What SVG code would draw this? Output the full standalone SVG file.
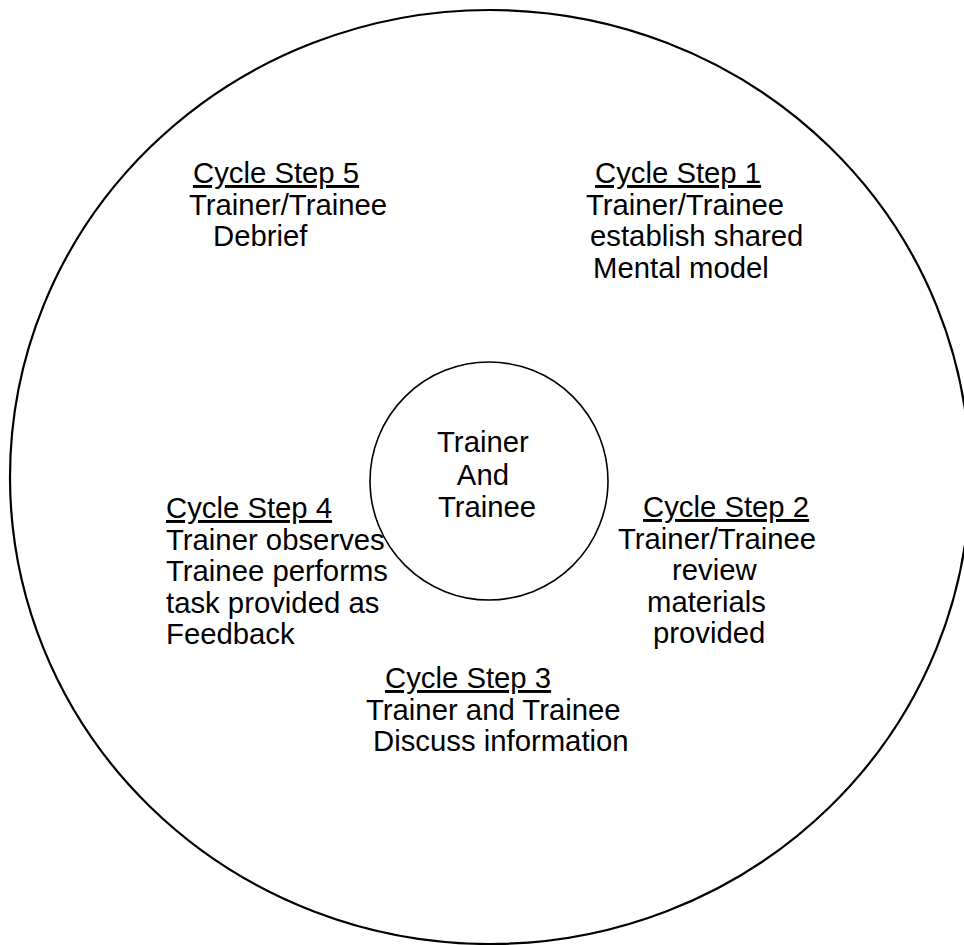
<svg xmlns="http://www.w3.org/2000/svg" width="964" height="945" viewBox="0 0 964 945">
<style>
  .t { font-family: "Liberation Sans", Arial, sans-serif; font-size: 29.3px; fill: #000; }
  .u { text-decoration: underline; }
  .ring { fill: none; stroke: #000; }
</style>
<rect width="964" height="945" fill="#fff"/>
<g id="outer-cycle">
  <ellipse class="ring" cx="490" cy="477" rx="480" ry="467" stroke-width="2.2"/>
</g>
<g id="center">
  <circle class="ring" cx="489" cy="481" r="119" stroke-width="1.6"/>
  <text class="t" text-anchor="middle">
    <tspan x="487" y="452">Trainer</tspan>
    <tspan x="487" y="485">And</tspan>
    <tspan x="487" y="517">Trainee</tspan>
  </text>
</g>
<g id="step1">
  <text class="t">
    <tspan class="u" x="595" y="183">Cycle Step 1</tspan>
    <tspan x="586" y="214.5">Trainer/Trainee</tspan>
    <tspan x="590" y="246">establish shared</tspan>
    <tspan x="593" y="277.5">Mental model</tspan>
  </text>
</g>
<g id="step2">
  <text class="t">
    <tspan class="u" x="643" y="517">Cycle Step 2</tspan>
    <tspan x="618" y="548.5">Trainer/Trainee</tspan>
    <tspan x="672" y="580">review</tspan>
    <tspan x="647" y="611.5">materials</tspan>
    <tspan x="653" y="643">provided</tspan>
  </text>
</g>
<g id="step3">
  <text class="t">
    <tspan class="u" x="385" y="688">Cycle Step 3</tspan>
    <tspan x="366" y="719.5">Trainer and Trainee</tspan>
    <tspan x="373" y="751">Discuss information</tspan>
  </text>
</g>
<g id="step4">
  <text class="t">
    <tspan class="u" x="166" y="518">Cycle Step 4</tspan>
    <tspan x="166" y="549.5">Trainer observes</tspan>
    <tspan x="166" y="581">Trainee performs</tspan>
    <tspan x="166" y="612.5">task provided as</tspan>
    <tspan x="166" y="644">Feedback</tspan>
  </text>
</g>
<g id="step5">
  <text class="t">
    <tspan class="u" x="193" y="183">Cycle Step 5</tspan>
    <tspan x="189" y="214.5">Trainer/Trainee</tspan>
    <tspan x="213" y="246">Debrief</tspan>
  </text>
</g>
<g id="connectors"/>
</svg>
